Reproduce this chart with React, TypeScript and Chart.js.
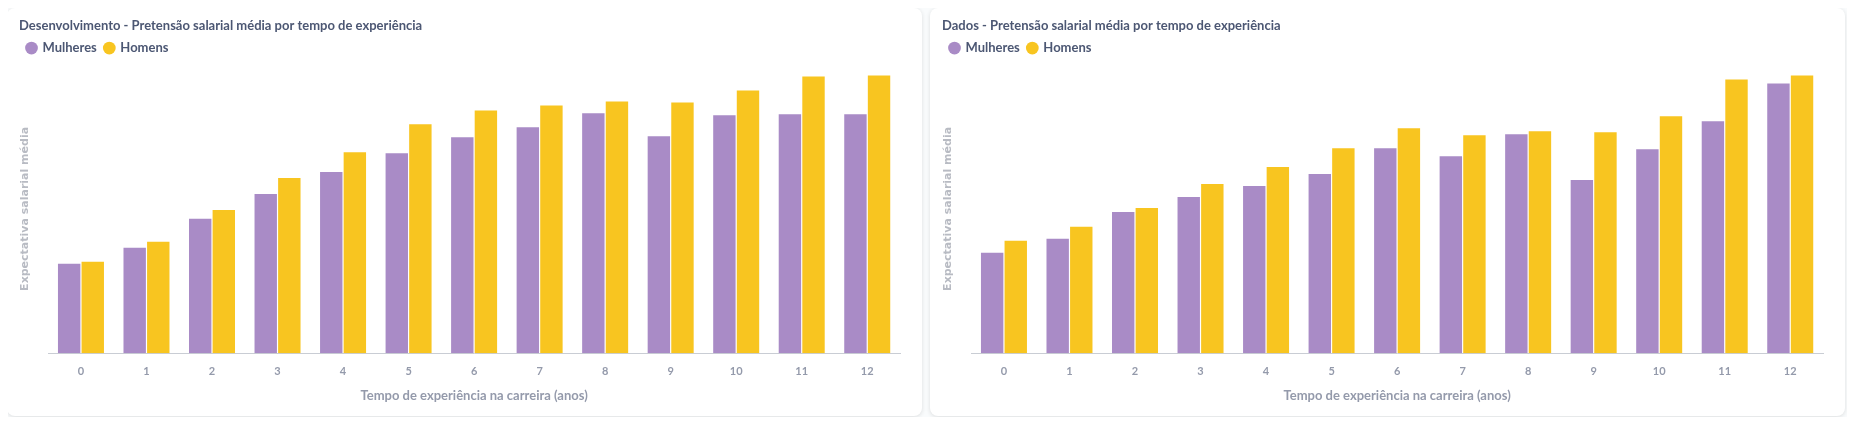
import { useEffect, useRef } from "react";
import { Chart, registerables, type ChartConfiguration } from "chart.js";

Chart.register(...registerables);

const years = ["0", "1", "2", "3", "4", "5", "6", "7", "8", "9", "10", "11", "12"];

const devWomen = [3600, 4240, 5400, 6400, 7280, 8040, 8680, 9080, 9640, 8720, 9560, 9600, 9600];
const devMen = [3680, 4480, 5760, 7040, 8080, 9200, 9760, 9960, 10120, 10080, 10560, 11120, 11160];

const dataWomen = [4040, 4600, 5680, 6280, 6720, 7200, 8240, 7920, 8800, 6960, 8200, 9320, 10840];
const dataMen = [4520, 5080, 5840, 6800, 7480, 8240, 9040, 8760, 8920, 8880, 9520, 11000, 11160];

const PURPLE = "#A98BC6";
const YELLOW = "#F8C520";
const FONT = "Lato, 'Noto Sans', sans-serif";

function makeConfig(title: string, women: number[], men: number[]): ChartConfiguration {
  return {
    type: "bar",
    data: {
      labels: years,
      datasets: [
        { label: "Mulheres", data: women, backgroundColor: PURPLE, categoryPercentage: 0.72, barPercentage: 0.95 },
        { label: "Homens", data: men, backgroundColor: YELLOW, categoryPercentage: 0.72, barPercentage: 0.95 },
      ],
    },
    options: {
      animation: false,
      responsive: false,
      layout: { padding: { left: 4, right: 14, top: 0, bottom: 8 } },
      plugins: {
        title: {
          display: true,
          text: title,
          align: "start",
          color: "#4C5773",
          font: { family: FONT, size: 13, weight: "bold" },
          padding: { top: 6, bottom: 0 },
        },
        legend: {
          align: "start",
          labels: {
            usePointStyle: true,
            pointStyle: "circle",
            boxWidth: 9,
            boxHeight: 9,
            color: "#4C5773",
            font: { family: FONT, size: 13, weight: "bold" },
            padding: 8,
          },
        },
        tooltip: { enabled: false },
      },
      scales: {
        x: {
          grid: { display: false },
          border: { display: true, color: "#C9CDD4" },
          ticks: { color: "#949AAB", font: { family: FONT, size: 11, weight: "bold" }, padding: 4 },
          title: {
            display: true,
            text: "Tempo de experiência na carreira (anos)",
            color: "#949AAB",
            font: { family: FONT, size: 13, weight: "bold" },
            padding: { top: 6, bottom: 0 },
          },
        },
        y: {
          min: 0,
          max: 11600,
          grid: { display: false },
          border: { display: false },
          ticks: { display: false },
          title: {
            display: true,
            text: "Expectativa salarial média",
            color: "#B8BBC3",
            font: { family: "'DejaVu Sans', sans-serif", size: 11, weight: "bold" },
            padding: { top: 0, bottom: 8 },
          },
        },
      },
    },
  };
}

function Panel({ title, women, men }: { title: string; women: number[]; men: number[] }) {
  const ref = useRef<HTMLCanvasElement>(null);
  useEffect(() => {
    const canvas = ref.current;
    if (!canvas) return;
    const chart = new Chart(canvas, makeConfig(title, women, men));
    return () => chart.destroy();
  }, [title, women, men]);
  return (
    <div
      style={{
        background: "#fff",
        borderRadius: 8,
        boxShadow: "0 1px 4px rgba(0,0,0,0.12)",
        width: 915,
        height: 408,
        padding: "4px 8px 0 8px",
        boxSizing: "border-box",
      }}
    >
      <canvas ref={ref} width={899} height={400} style={{ width: 899, height: 400 }} />
    </div>
  );
}

export default function App() {
  return (
    <div
      style={{
        display: "flex",
        gap: 8,
        background: "#F9FBFC",
        margin: -8,
        padding: "8px 7px",
        width: 1855,
        height: 425,
        boxSizing: "border-box",
      }}
    >
      <Panel title="Desenvolvimento - Pretensão salarial média por tempo de experiência" women={devWomen} men={devMen} />
      <Panel title="Dados - Pretensão salarial média por tempo de experiência" women={dataWomen} men={dataMen} />
    </div>
  );
}
